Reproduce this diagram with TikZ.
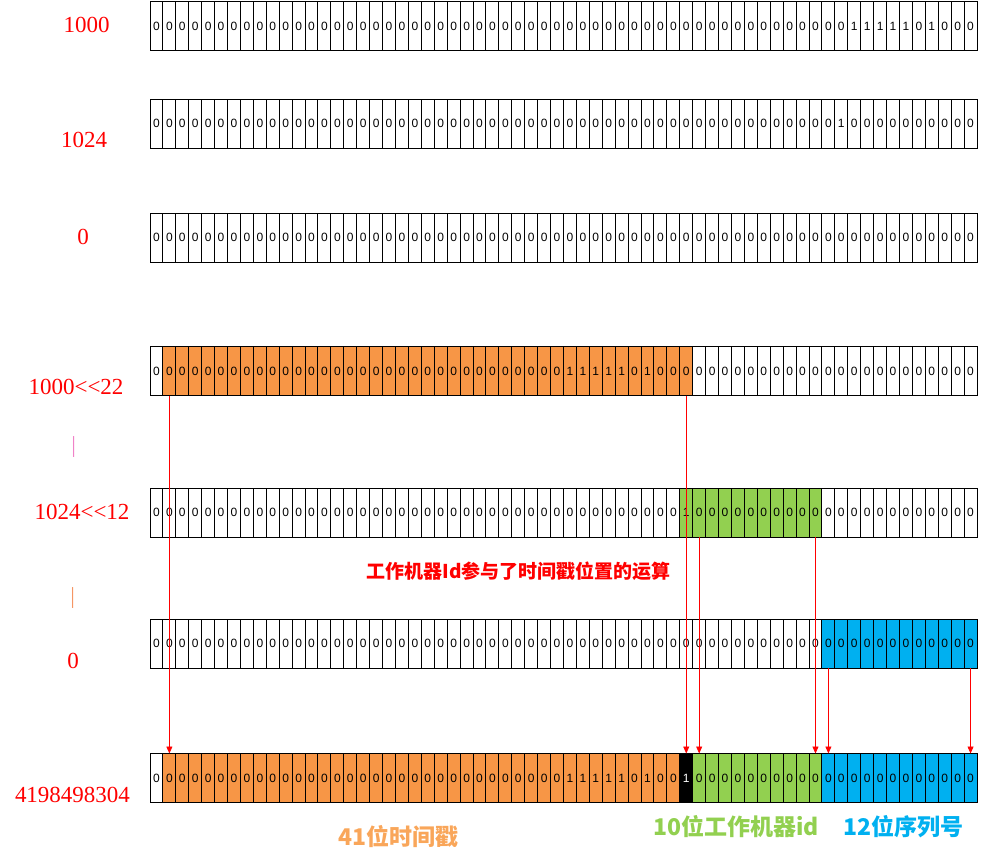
\documentclass[tikz,border=0pt]{standalone}
\usepackage{fontspec}
\setmainfont{Liberation Serif}[Ligatures=TeXOff]
\newfontfamily\cellfont{Liberation Sans}
\newfontfamily\cjk{Noto Sans CJK SC}
\usetikzlibrary{arrows.meta}
\definecolor{orng}{HTML}{F79646}
\definecolor{orngtext}{HTML}{F9A65A}
\definecolor{grn}{HTML}{92D050}
\definecolor{blu}{HTML}{00B0F0}
\definecolor{pipepink}{RGB}{240,130,200}
\definecolor{pipeorange}{RGB}{245,150,100}
\tikzset{
  bitcell/.style={draw=black, line width=1pt, minimum width=12.922pt, minimum height=49pt,
    inner sep=0pt, outer sep=0pt, font=\cellfont\fontsize{12}{12}\selectfont},
  rowlabel/.style={text=red, inner sep=0pt, font=\fontsize{23}{23}\selectfont},
  pipe/.style={inner sep=0pt, font=\fontsize{23}{23}\selectfont},
  shiftarrow/.style={draw=red, line width=0.8pt, -{Triangle[length=7pt,width=6pt]}},
  cjklabel/.style={inner sep=0pt, font=\cjk\bfseries\fontsize{23}{23}\selectfont},
}
% #1 name, #2 top y, #3 positions of ones, #4 colour ranges lo/hi/fill/text
\newcommand\bitrow[4]{%
  \foreach \i in {0,...,63}{%
    \gdef\bitval{0}%
    \foreach \o in {#3}{\ifnum\i=\o\relax\gdef\bitval{1}\fi}%
    \gdef\cellfill{white}\gdef\celltext{black}%
    \foreach \lo/\hi/\fc/\tc in {#4}{%
      \ifnum\i<\lo\relax\else\ifnum\i>\hi\relax\else
        \xdef\cellfill{\fc}\xdef\celltext{\tc}\fi\fi}%
    \node[bitcell, fill=\cellfill, text=\celltext] (#1c\i)
      at ({150+12.922*(\i+0.5)}, {#2+24.5}) {\bitval};
  }%
}
\begin{document}
\begin{tikzpicture}[x=1pt, y=-1pt]
\useasboundingbox (0,0) rectangle (983,862);

\bitrow{ra}{1.5}{54,55,56,57,58,60}{99/99/white/black}
\bitrow{rb}{99}{53}{99/99/white/black}
\bitrow{rc}{213}{-1}{99/99/white/black}
\bitrow{rd}{346.5}{32,33,34,35,36,38}{1/41/orng/black}
\bitrow{re}{488}{41}{41/51/grn/black}
\bitrow{rf}{619}{-1}{52/63/blu/black}
\bitrow{rg}{753.5}{32,33,34,35,36,38,41}{1/40/orng/black,41/41/black/white,42/51/grn/black,52/63/blu/black}

\node[rowlabel] (la) at (86.5,25) {1000};
\node[rowlabel] (lb) at (84,140) {1024};
\node[rowlabel] (lc) at (83,237) {0};
\node[rowlabel] (ld) at (76,387) {1000<<22};
\node[pipe, text=pipepink] (pa) at (73.7,446.5) {|};
\node[rowlabel] (le) at (82,512) {1024<<12};
\node[pipe, text=pipeorange] (pb) at (72.7,598) {|};
\node[rowlabel] (lf) at (73,661) {0};
\node[rowlabel] (lg) at (72.5,795) {4198498304};

\node[text=red, inner sep=0pt, font=\cjk\bfseries\fontsize{19}{19}\selectfont] (note) at (518.5,571.5) {工作机器Id参与了时间戳位置的运算};

\node[cjklabel, text=orngtext] (ts) at (398.5,837) {41位时间戳};
\node[cjklabel, text=grn] (wk) at (736,827) {10位工作机器id};
\node[cjklabel, text=blu] (sq) at (903,827) {12位序列号};

\draw[shiftarrow] (rdc1.south) -- (rgc1.north);
\draw[shiftarrow] (rdc41.south) -- (rgc41.north);
\draw[shiftarrow] (rec42.south) -- (rgc42.north);
\draw[shiftarrow] (rec51.south) -- (rgc51.north);
\draw[shiftarrow] (rfc52.south) -- (rgc52.north);
\draw[shiftarrow] (rfc63.south) -- (rgc63.north);
\end{tikzpicture}
\end{document}
